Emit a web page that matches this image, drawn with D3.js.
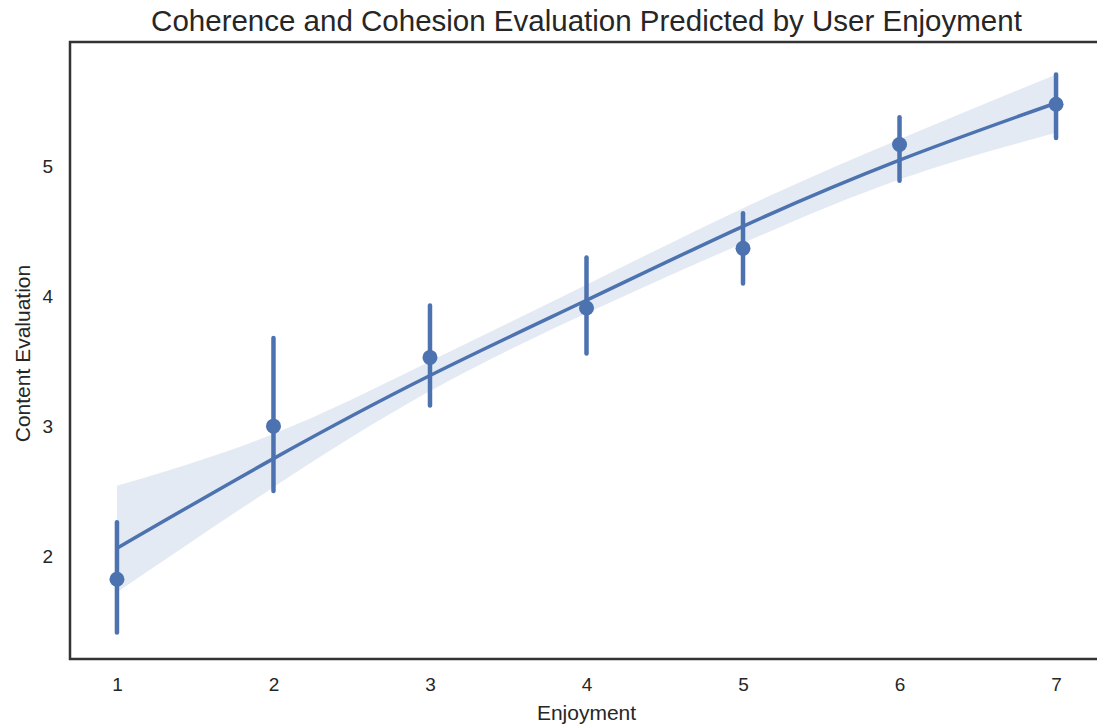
<!DOCTYPE html>
<html>
<head>
<meta charset="utf-8">
<script src="https://cdn.jsdelivr.net/npm/d3@7"></script>
<style>
  body { margin: 0; background: #fff; }
  text { font-family: "Liberation Sans", Arial, sans-serif; fill: #262626; }
</style>
</head>
<body>
<div id="chart"></div>
<script>
// DATA ===========================================================================================
const enjoyment = [1, 2, 3, 4, 5, 6, 7]
const meanScore = [1.82, 3.00, 3.53, 3.91, 4.37, 5.17, 5.48]
const ciLow     = [1.41, 2.50, 3.16, 3.56, 4.10, 4.89, 5.22]
const ciHigh    = [2.26, 3.68, 3.93, 4.30, 4.64, 5.38, 5.71]
const fitLine   = [2.06, 2.75, 3.39, 3.97, 4.54, 5.05, 5.49]
const bandLow   = [1.72, 2.53, 3.27, 3.87, 4.41, 4.90, 5.26]
const bandHigh  = [2.54, 2.94, 3.50, 4.09, 4.68, 5.21, 5.71]
const xTicks = [1, 2, 3, 4, 5, 6, 7]
const yTicks = [2, 3, 4, 5]

// SET UP =========================================================================================
const width = 1097
const height = 725
const margin = {top: 42, bottom: 66, left: 70, right: -6}
const ctr_width = width - margin.left - margin.right
const ctr_height = height - margin.top - margin.bottom
const blue = '#4c72b0'

const svg = d3.select('#chart')
  .append('svg')
  .attr('width', width)
  .attr('height', height)

const g = svg.append('g')
  .attr('transform', `translate(${margin.left}, ${margin.top})`)

// SCALES AND AXES ================================================================================
const x = d3.scaleLinear()
  .domain([0.7, 7.3])
  .range([0, ctr_width])

const y = d3.scaleLinear()
  .domain([1.206, 5.96])
  .range([ctr_height, 0])

const xAxis = g.append('g')
  .attr('transform', `translate(0, ${ctr_height})`)
  .call(d3.axisBottom(x).tickValues(xTicks).tickSize(0).tickPadding(19).tickFormat(d3.format('d')))
xAxis.select('.domain').remove()
xAxis.selectAll('text').style('font-size', '19px').attr('fill', '#262626')

const yAxis = g.append('g')
  .call(d3.axisLeft(y).tickValues(yTicks).tickSize(0).tickPadding(17).tickFormat(d3.format('d')))
yAxis.select('.domain').remove()
yAxis.selectAll('text').style('font-size', '19px').attr('fill', '#262626')

// MARKS ==========================================================================================
const rows = enjoyment.map((e, i) => ({
  e: e, m: meanScore[i], lo: ciLow[i], hi: ciHigh[i],
  fit: fitLine[i], bLo: bandLow[i], bHi: bandHigh[i]
}))

g.append('path')
  .datum(rows)
  .attr('fill', blue)
  .attr('fill-opacity', 0.15)
  .attr('d', d3.area()
    .curve(d3.curveNatural)
    .x(d => x(d.e))
    .y0(d => y(d.bLo))
    .y1(d => y(d.bHi))
  )

g.selectAll('.ci')
  .data(rows)
  .join('line')
  .attr('x1', d => x(d.e))
  .attr('x2', d => x(d.e))
  .attr('y1', d => y(d.lo))
  .attr('y2', d => y(d.hi))
  .attr('stroke', blue)
  .attr('stroke-width', 4.5)
  .attr('stroke-linecap', 'round')

g.append('path')
  .datum(rows)
  .attr('fill', 'none')
  .attr('stroke', blue)
  .attr('stroke-width', 3.5)
  .attr('d', d3.line()
    .curve(d3.curveNatural)
    .x(d => x(d.e))
    .y(d => y(d.fit))
  )

g.selectAll('.pt')
  .data(rows)
  .join('circle')
  .attr('cx', d => x(d.e))
  .attr('cy', d => y(d.m))
  .attr('r', 7.5)
  .attr('fill', blue)

// frame
g.append('rect')
  .attr('x', 0)
  .attr('y', 0)
  .attr('width', ctr_width)
  .attr('height', ctr_height)
  .attr('fill', 'none')
  .attr('stroke', '#333')
  .attr('stroke-width', 2.5)

// LABELS =========================================================================================
svg.append('text')
  .attr('x', margin.left + ctr_width / 2)
  .attr('y', 31)
  .attr('text-anchor', 'middle')
  .style('font-size', '29.5px')
  .text('Coherence and Cohesion Evaluation Predicted by User Enjoyment')

svg.append('text')
  .attr('x', margin.left + ctr_width / 2)
  .attr('y', 720)
  .attr('text-anchor', 'middle')
  .style('font-size', '21px')
  .text('Enjoyment')

svg.append('text')
  .attr('transform', `translate(30, ${margin.top + ctr_height / 2 + 3}) rotate(-90)`)
  .attr('text-anchor', 'middle')
  .style('font-size', '21px')
  .text('Content Evaluation')
</script>
</body>
</html>
